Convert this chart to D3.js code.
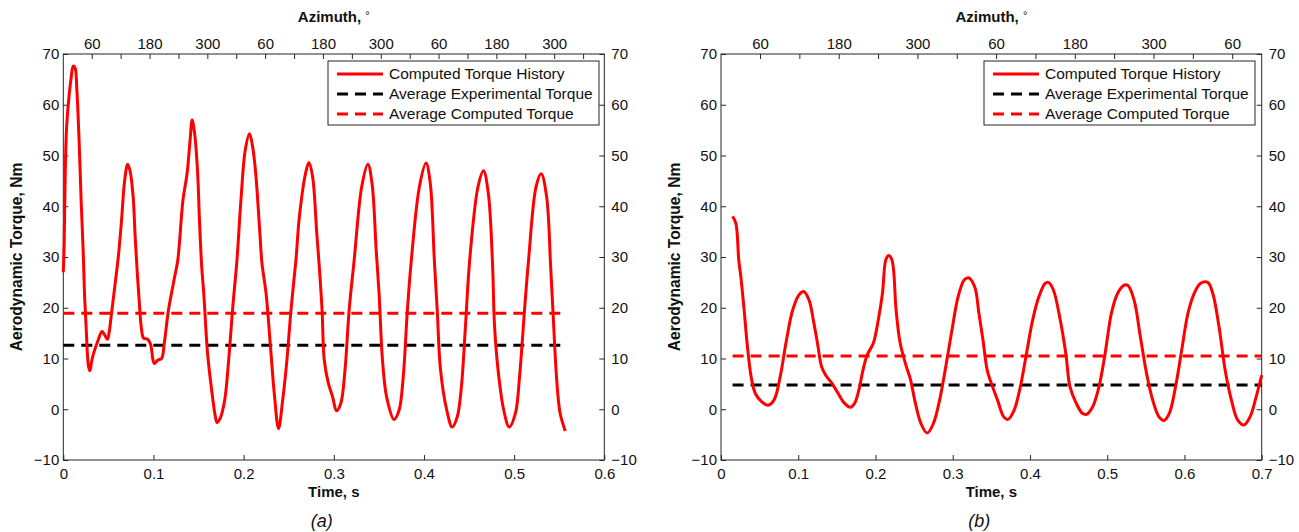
<!DOCTYPE html>
<html><head><meta charset="utf-8">
<script src="https://cdn.jsdelivr.net/npm/d3@7"></script>
<style>body{margin:0;background:#fff}svg{display:block}</style>
</head><body><svg id="c" width="1299" height="532"></svg>
<script>
// ---------- data ----------
const timeA = [0,0.001,0.002,0.0035,0.006,0.0085,0.011,0.013,0.015,0.0175,0.0198,0.022,0.0235,0.0253,0.0267,0.028,0.0295,0.0315,0.0336,0.038,0.043,0.046,0.049,0.051,0.053,0.058,0.061,0.0645,0.068,0.0714,0.074,0.0774,0.0797,0.082,0.0843,0.0866,0.089,0.0935,0.0968,0.0995,0.101,0.105,0.109,0.112,0.1166,0.1235,0.127,0.1327,0.1373,0.1406,0.1429,0.1456,0.149,0.151,0.1535,0.1558,0.160,0.165,0.1687,0.1705,0.174,0.179,0.1834,0.188,0.1926,0.197,0.2018,0.2065,0.21,0.2134,0.218,0.2203,0.2249,0.2295,0.234,0.2387,0.2433,0.248,0.2525,0.258,0.2618,0.2687,0.2724,0.2765,0.2811,0.2839,0.287,0.2894,0.294,0.2986,0.303,0.3078,0.3124,0.317,0.3226,0.331,0.3378,0.3424,0.347,0.3502,0.354,0.3585,0.3668,0.3724,0.377,0.3816,0.386,0.395,0.4023,0.407,0.4115,0.4147,0.4184,0.4253,0.4313,0.4369,0.4415,0.446,0.4507,0.46,0.466,0.4714,0.476,0.4783,0.483,0.4885,0.4945,0.5014,0.506,0.5115,0.516,0.5244,0.53,0.536,0.5405,0.543,0.5475,0.551,0.5567];
const torqueA = [27,33,45,55,61,65,67.6,67.3,63,53,41,31.4,22.8,16.3,11,8.4,7.6,9.5,11,13.3,15.3,14.6,13.8,15.3,18.2,25.5,30,37,45,48.3,47,42,34,27,21,16,14,13.8,12.8,9.7,9,9.7,10,13,19.5,26.1,29.4,41.2,46.5,53,57,54.4,46.5,37.3,28.1,22.8,11,3.1,-1.5,-2.6,-1.8,1.8,9.7,20.2,29.4,41.2,51.1,54.3,51.7,46.5,34.7,28.8,22.8,13,3.1,-3.8,1.8,9.7,19.5,29.4,37.9,46.5,48.6,45.8,34.7,28.1,19.5,9.7,5.1,2.5,-0.3,1.2,7.7,19.5,29.4,43.9,48.3,44.5,31.4,22.8,9.7,2.5,-2.0,-0.2,6.4,19.5,29.4,43.9,48.5,44.5,29.4,19.5,7.7,-0.2,-3.5,-1.5,4.4,16.3,29.4,43.9,47,42.5,28.8,16.3,6.4,-0.2,-3.5,-0.8,6.4,19.5,29.4,43.9,46.4,41.9,28.1,19.5,5.1,-0.8,-4.3];
const timeB = [0.015,0.0193,0.023,0.0257,0.03,0.0338,0.039,0.0445,0.0525,0.0606,0.0686,0.0766,0.0847,0.0927,0.1008,0.107,0.114,0.1195,0.1249,0.1302,0.1356,0.1436,0.1517,0.1597,0.1677,0.173,0.1785,0.1838,0.1892,0.1972,0.2036,0.209,0.2133,0.217,0.2213,0.2267,0.232,0.24,0.2454,0.2508,0.2588,0.2669,0.275,0.283,0.291,0.299,0.307,0.315,0.3205,0.3285,0.3339,0.3392,0.3446,0.35,0.358,0.366,0.3714,0.3794,0.3875,0.3955,0.4035,0.4116,0.4196,0.4239,0.4303,0.4384,0.4464,0.4518,0.4598,0.4678,0.4732,0.4812,0.4893,0.4973,0.5054,0.5134,0.5214,0.5268,0.5348,0.5429,0.5509,0.5589,0.567,0.5734,0.5804,0.5884,0.5965,0.6045,0.6125,0.6206,0.6302,0.6367,0.6447,0.6527,0.6608,0.6688,0.6768,0.6849,0.6929,0.7];
const torqueB = [38,36.6,29.4,26.1,19.5,13,6.4,3.1,1.5,0.8,1.8,6.4,13.6,19.5,22.5,23.2,21.5,17.6,13,8.4,6.7,5.1,3.1,1.2,0.4,1.2,3.8,7.7,10.7,13,17.6,22.8,29.4,30.3,29.4,19.5,13,8.4,5.8,1.8,-2.8,-4.7,-2.8,1.8,8.4,15.6,22.2,25.5,25.9,24.1,18.9,13.6,7.7,5.1,1.8,-1.5,-2.0,-0.2,4.4,11,17.6,22.2,24.8,25.0,23.5,18.2,11,4.4,1.2,-0.8,-1.0,0.5,4.4,11,18.9,22.8,24.4,24.4,21.5,14.3,7.1,1.8,-1.5,-2.2,-0.8,4.4,11.7,18.9,22.8,24.8,25.0,22.8,16.3,7.7,1.8,-2.1,-3.1,-1.5,2.5,6.7];
const avgExpA = 12.6, avgCompA = 18.9;
const avgExpB = 4.8, avgCompB = 10.5;
const torqueTicks = [-10,0,10,20,30,40,50,60,70];
const timeTicksA = [0,0.1,0.2,0.3,0.4,0.5,0.6];
const timeTicksB = [0,0.1,0.2,0.3,0.4,0.5,0.6,0.7];
const azimuthDomainA = [1, 1124];
const azimuthDomainB = [0.5, 825];
const legendLabels = ["Computed Torque History","Average Experimental Torque","Average Computed Torque"];
const panelLabels = ["(a)","(b)"];

// ---------- drawing ----------
const svg = d3.select("#c");
const FONT = "'Liberation Sans', Arial, Helvetica, sans-serif";
const INK = "#262626";
const DASH = "11,7";
const plotTop = 54, plotBottom = 460;

function panel(cfg){
  const x = d3.scaleLinear().domain([0, cfg.tMax]).range([cfg.x0, cfg.x1]);
  const y = d3.scaleLinear().domain([-10, 70]).range([plotBottom, plotTop]);
  const az = d3.scaleLinear().domain(cfg.azDomain).range([cfg.x0, cfg.x1]);
  const g = svg.append("g");

  const ax = (sel) => { sel.select(".domain").remove();
    sel.selectAll("line").attr("stroke", INK);
    sel.selectAll("text").attr("fill", "#111").style("font-family", FONT).style("font-size", "15px"); };
  g.append("g").attr("transform",`translate(0,${plotBottom})`)
    .call(d3.axisBottom(x).tickValues(cfg.timeTicks).tickFormat(d3.format("")).tickSize(-5).tickSizeOuter(0).tickPadding(8)).call(ax);
  g.append("g").attr("transform",`translate(${cfg.x0},0)`)
    .call(d3.axisLeft(y).tickValues(torqueTicks).tickSize(-5).tickSizeOuter(0).tickPadding(4)).call(ax);
  g.append("g").attr("transform",`translate(${cfg.x1},0)`)
    .call(d3.axisRight(y).tickValues(torqueTicks).tickSize(-5).tickSizeOuter(0).tickPadding(7)).call(ax);
  const azTicks = d3.range(60, cfg.azDomain[1], 60);
  g.append("g").attr("transform",`translate(0,${plotTop})`)
    .call(d3.axisTop(az).tickValues(azTicks).tickSize(-5).tickSizeOuter(0).tickPadding(5)
      .tickFormat(d => ((d - 60) % 120 === 0) ? String(d % 360) : "")).call(ax);

  g.append("rect").attr("x", cfg.x0).attr("y", plotTop).attr("width", cfg.x1 - cfg.x0).attr("height", plotBottom - plotTop)
    .attr("fill", "none").attr("stroke", INK).attr("stroke-width", 1);

  const t0 = cfg.time[0], t1 = cfg.time[cfg.time.length - 1];
  const hline = (v, color) => g.append("line").attr("x1", x(t0)).attr("x2", x(t1))
    .attr("y1", y(v)).attr("y2", y(v)).attr("stroke", color).attr("stroke-width", 3).attr("stroke-dasharray", DASH);
  hline(cfg.avgComp, "#ff0000");
  hline(cfg.avgExp, "#000000");

  const pts = cfg.time.map((t, i) => [t, cfg.torque[i]]);
  g.append("path").datum(pts)
    .attr("d", d3.line().x(d => x(d[0])).y(d => y(d[1])).curve(d3.curveCatmullRom.alpha(0.5)))
    .attr("fill", "none").attr("stroke", "#ff0000").attr("stroke-width", 3).attr("stroke-linejoin", "round");

  const lx = cfg.legendX, lw = 271, ly = 61, lh = 64;
  g.append("rect").attr("x", lx).attr("y", ly).attr("width", lw).attr("height", lh)
    .attr("fill", "#fff").attr("stroke", INK).attr("stroke-width", 1);
  const styles = [["#ff0000", null], ["#000000", DASH], ["#ff0000", DASH]];
  legendLabels.forEach((lab, i) => {
    const yy = ly + 13 + i * 20;
    g.append("line").attr("x1", lx + 9).attr("x2", lx + 55).attr("y1", yy).attr("y2", yy)
      .attr("stroke", styles[i][0]).attr("stroke-width", 3).attr("stroke-dasharray", styles[i][1]);
    g.append("text").attr("x", lx + 61).attr("y", yy).attr("dy", "0.35em")
      .style("font-family", FONT).style("font-size", "15.5px").attr("fill", "#111").text(lab);
  });

  const cx = (cfg.x0 + cfg.x1) / 2;
  const tt = g.append("text").attr("x", cx).attr("y", 22).attr("text-anchor", "middle")
    .style("font-family", FONT).style("font-size", "15px").attr("fill", "#111");
  tt.append("tspan").style("font-weight", "bold").text("Azimuth, ");
  tt.append("tspan").attr("dy", "-3").style("font-size", "11px").text("°");
  g.append("text").attr("x", cx).attr("y", 497).attr("text-anchor", "middle")
    .style("font-family", FONT).style("font-size", "15px").style("font-weight", "bold").attr("fill", "#111").text("Time, s");
  g.append("text").attr("transform", `translate(${cfg.x0 - 41},${(plotTop + plotBottom) / 2}) rotate(-90)`)
    .attr("text-anchor", "middle").style("font-family", FONT).style("font-size", "15.6px").style("font-weight", "bold")
    .attr("fill", "#111").text("Aerodynamic Torque, Nm");
  g.append("text").attr("x", cx - 12).attr("y", 527).attr("text-anchor", "middle")
    .style("font-family", FONT).style("font-size", "18px").style("font-style", "italic").attr("fill", "#111").text(cfg.label);
}

panel({x0: 63.3, x1: 604.3, tMax: 0.6, timeTicks: timeTicksA, azDomain: azimuthDomainA,
  time: timeA, torque: torqueA, avgExp: avgExpA, avgComp: avgCompA, legendX: 328, label: panelLabels[0]});
panel({x0: 721, x1: 1261.7, tMax: 0.7, timeTicks: timeTicksB, azDomain: azimuthDomainB,
  time: timeB, torque: torqueB, avgExp: avgExpB, avgComp: avgCompB, legendX: 984, label: panelLabels[1]});
</script></body></html>
